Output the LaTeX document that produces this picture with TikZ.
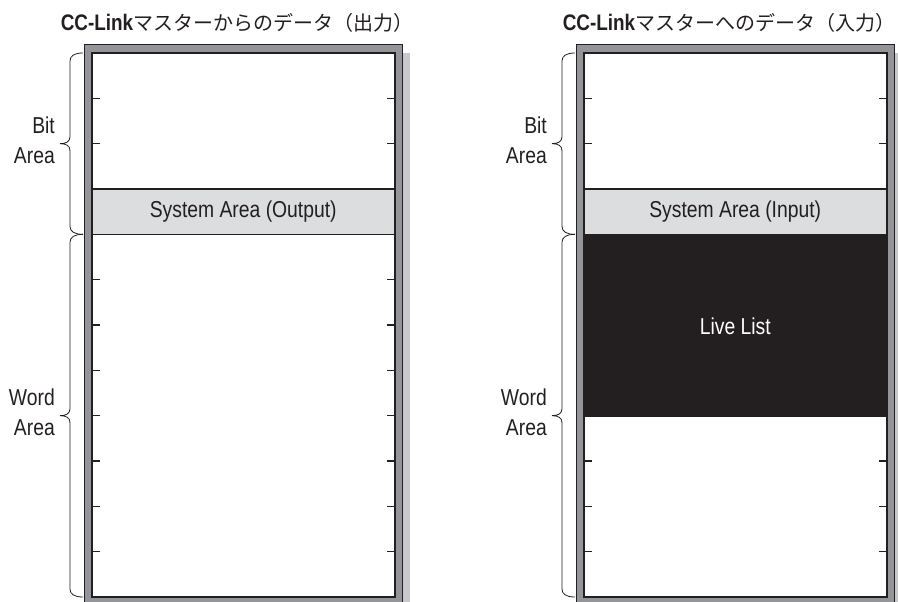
\documentclass[tikz,border=0pt]{standalone}
\usepackage{fontspec}
\setmainfont{Liberation Sans}[FakeStretch=0.84]
\newfontfamily\jpfont{Noto Sans CJK JP}
\usepackage{xcolor}
\usepackage{tikz}
\usetikzlibrary{positioning, calc}

\definecolor{ink}{HTML}{231F20}
\definecolor{framegray}{HTML}{939598}
\definecolor{sysgray}{HTML}{DCDDDE}
\definecolor{shadowgray}{HTML}{C7C8CA}

% curly brace from top (#1) over tip (#2) to bottom (#3)
\newcommand{\areabrace}[3]{
\draw[curly] (#1) .. controls +(-9,0) and +(0,-5) .. ($(#1)+(-13,8)$)
    -- ($(#2)+(-13,-7)$)
    .. controls +(0,5) and +(6,0) .. ($(#2)+(-23,0)$)
    .. controls +(6,0) and +(0,-5) .. ($(#2)+(-13,7)$)
    -- ($(#3)+(-13,-8)$)
    .. controls +(0,5) and +(-9,0) .. (#3);
}

\begin{document}
\begin{tikzpicture}[
    x=1pt, y=-1pt,
    shadow/.style={
        fill=shadowgray
    },
    frame/.style={
        fill=framegray,
        draw=ink,
        line width=1pt
    },
    inner/.style={
        fill=white,
        draw=ink,
        line width=2pt
    },
    sysbox/.style={
        rectangle,
        fill=sysgray,
        draw=ink,
        line width=1.5pt,
        minimum width=302.5pt,
        minimum height=45.33pt,
        text=ink,
        font=\fontsize{23}{26}\selectfont
    },
    livebox/.style={
        rectangle,
        fill=ink,
        minimum width=302.5pt,
        minimum height=181.33pt,
        text=white,
        font=\fontsize{23}{26}\selectfont
    },
    tick/.style={
        draw=ink,
        line width=1.5pt
    },
    curly/.style={
        draw=ink,
        line width=0.8pt
    },
    side/.style={
        anchor=east,
        align=right,
        inner sep=0pt,
        text=ink,
        font=\fontsize{23}{30}\selectfont
    },
    heading/.style={
        anchor=base,
        inner sep=0pt,
        text=ink,
        font=\fontsize{22.5}{26}\selectfont
    }
]

\useasboundingbox (0,0) rectangle (898,602);
\clip (0,0) rectangle (898,602);

% Output side

\begin{scope}
\node[heading] (titleL) at (237,31) {%
{\bfseries CC-Link}{\jpfont\fontsize{20}{24}\selectfont マスターからのデータ（出力）}};

\fill[shadow] (91.5,53) rectangle (409.5,613);
\draw[frame] (84.5,45) rectangle (402.5,605);
\draw[inner] (92,53) rectangle (394.5,597);

\node[sysbox] (sysL) at (243.25,211.67) {System Area (Output)};

\foreach \k in {1,2,5,6,7,8,9,10,11} {
    \draw[tick] (93,53+\k*45.333) -- ++(7,0);
    \draw[tick] (393.5,53+\k*45.333) -- ++(-7,0);
}

\coordinate (bitTopL) at (83,53);
\coordinate (bitTipL) at (83,143.67);
\coordinate (bitEndL) at (83,234.33);
\coordinate (wordTipL) at (83,415.67);
\coordinate (wordEndL) at (83,597);

\areabrace{bitTopL}{bitTipL}{bitEndL}
\areabrace{bitEndL}{wordTipL}{wordEndL}

\node[side] (bitL) at (55,140) {Bit\\Area};
\node[side] (wordL) at (55,412) {Word\\Area};
\end{scope}


% Input side

\begin{scope}[xshift=492]
\node[heading] (titleR) at (237,31) {%
{\bfseries CC-Link}{\jpfont\fontsize{20}{24}\selectfont マスターへのデータ（入力）}};

\fill[shadow] (91.5,53) rectangle (409.5,613);
\draw[frame] (84.5,45) rectangle (402.5,605);
\draw[inner] (92,53) rectangle (394.5,597);

\node[sysbox] (sysR) at (243.25,211.67) {System Area (Input)};
\node[livebox, below=0pt of sysR] (live) {Live List};

\foreach \k in {1,2,9,10,11} {
    \draw[tick] (93,53+\k*45.333) -- ++(7,0);
    \draw[tick] (393.5,53+\k*45.333) -- ++(-7,0);
}

\coordinate (bitTopR) at (83,53);
\coordinate (bitTipR) at (83,143.67);
\coordinate (bitEndR) at (83,234.33);
\coordinate (wordTipR) at (83,415.67);
\coordinate (wordEndR) at (83,597);

\areabrace{bitTopR}{bitTipR}{bitEndR}
\areabrace{bitEndR}{wordTipR}{wordEndR}

\node[side] (bitR) at (55,140) {Bit\\Area};
\node[side] (wordR) at (55,412) {Word\\Area};
\end{scope}

\end{tikzpicture}
\end{document}
